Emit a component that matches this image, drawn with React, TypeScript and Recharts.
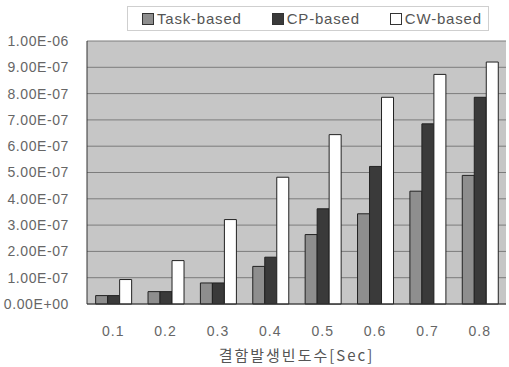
import { Bar, BarChart, CartesianGrid, XAxis, YAxis } from 'recharts';

const categories = ['0.1', '0.2', '0.3', '0.4', '0.5', '0.6', '0.7', '0.8'];
const taskBased = [0.32e-7, 0.47e-7, 0.8e-7, 1.43e-7, 2.64e-7, 3.43e-7, 4.29e-7, 4.89e-7];
const cpBased = [0.32e-7, 0.47e-7, 0.8e-7, 1.78e-7, 3.62e-7, 5.23e-7, 6.85e-7, 7.86e-7];
const cwBased = [0.93e-7, 1.65e-7, 3.21e-7, 4.82e-7, 6.44e-7, 7.86e-7, 8.73e-7, 9.2e-7];
const yTicks = [0, 1e-7, 2e-7, 3e-7, 4e-7, 5e-7, 6e-7, 7e-7, 8e-7, 9e-7, 1e-6];

const series = [
  { key: 'task', name: 'Task-based', fill: '#8e8e8e' },
  { key: 'cp', name: 'CP-based', fill: '#3a3a3a' },
  { key: 'cw', name: 'CW-based', fill: '#ffffff' },
];

const data = categories.map((c, i) => ({ name: c, task: taskBased[i], cp: cpBased[i], cw: cwBased[i] }));

const font = 'Arial, "Liberation Sans", sans-serif';

const formatSci = (v: number) => {
  if (v === 0) return '0.00E+00';
  const exp = Math.floor(Math.log10(v) + 1e-9);
  const mant = v / Math.pow(10, exp);
  const sign = exp < 0 ? '-' : '+';
  return `${mant.toFixed(2)}E${sign}${String(Math.abs(exp)).padStart(2, '0')}`;
};

function ChartLegend() {
  return (
    <div style={{ position: 'absolute', left: 127, top: 6, width: 362, height: 25, border: '1px solid #cfcfcf', background: '#fff', display: 'flex', alignItems: 'center', boxSizing: 'border-box', paddingLeft: 14, fontFamily: font, fontSize: 15, color: '#555', whiteSpace: 'nowrap' }}>
      {series.map((s) => (
        <div key={s.key} style={{ display: 'flex', alignItems: 'center', marginRight: 30, flexShrink: 0 }}>
          <span style={{ width: 12, height: 12, background: s.fill, border: '1px solid #333', marginRight: 3, boxSizing: 'border-box', flexShrink: 0 }}/>
          <span style={{ letterSpacing: 0.8 }}>{s.name}</span>
        </div>
      ))}
    </div>
  );
}

export default function App() {
  return (
    <div style={{ position: 'absolute', left: 0, top: 0, width: 509, height: 367, background: '#fff' }}>
      <BarChart width={509} height={367} data={data} margin={{ top: 41, right: 3, left: 0, bottom: 0 }} barGap={0} barCategoryGap="16.5%">
        <CartesianGrid horizontal vertical={false} fill="#c6c6c6" stroke="#7c7c7c" strokeWidth={1}/>
        <XAxis dataKey="name" height={63} axisLine={{ stroke: '#333' }} tickLine={false} tickMargin={16} tick={{ fontSize: 14, fill: '#666', fontFamily: font, letterSpacing: 1 }}
          label={{ value: '결함발생빈도수[Sec]', position: 'insideBottom', offset: 6, fontSize: 15, fill: '#555', fontFamily: '"Noto Sans CJK KR", sans-serif', letterSpacing: 2 }}/>
        <YAxis domain={[0, 1e-6]} ticks={yTicks} width={87} interval={0} tickFormatter={formatSci} axisLine={{ stroke: '#333' }} tickLine={false} tickMargin={12} tick={{ fontSize: 14, fill: '#666', fontFamily: font, letterSpacing: 0.6 }}/>
        <YAxis yAxisId="r" orientation="right" width={0} tick={false} axisLine={{ stroke: '#444' }}/>
        {series.map((s) => (
          <Bar key={s.key} dataKey={s.key} name={s.name} fill={s.fill} stroke="#222" strokeWidth={1} isAnimationActive={false}/>
        ))}
      </BarChart>
      <ChartLegend/>
    </div>
  );
}
